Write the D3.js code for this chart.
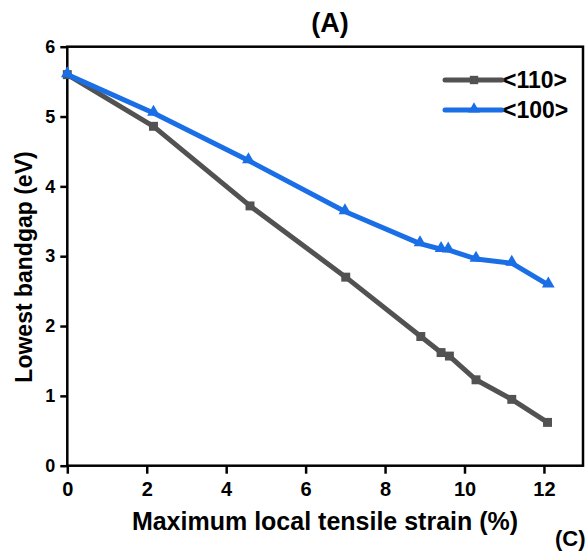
<!DOCTYPE html>
<html>
<head>
<meta charset="utf-8">
<script src="https://cdn.jsdelivr.net/npm/d3@7"></script>
<style>
  html, body { margin: 0; padding: 0; background: #fff; }
  svg { display: block; }
  text { font-family: "Liberation Sans", Arial, sans-serif; font-weight: bold; fill: #000; }
</style>
</head>
<body>
<svg id="chart" width="588" height="551"></svg>
<script>
// ---- data ----
const strain110 = [0, 2.17, 4.6, 7.01, 8.9, 9.41, 9.62, 10.29, 11.19, 12.09];
const gap110    = [5.6, 4.86, 3.72, 2.70, 1.85, 1.62, 1.57, 1.23, 0.95, 0.62];
const strain100 = [0, 2.17, 4.56, 6.99, 8.88, 9.41, 9.59, 10.29, 11.19, 12.11];
const gap100    = [5.6, 5.05, 4.37, 3.64, 3.18, 3.10, 3.09, 2.96, 2.90, 2.59];
const seriesNames = ["<110>", "<100>"];
const xTicks = [0, 2, 4, 6, 8, 10, 12];
const yTicks = [0, 1, 2, 3, 4, 5, 6];
const titleText = "(A)";
const xLabel = "Maximum local tensile strain (%)";
const yLabel = "Lowest bandgap (eV)";

// ---- layout ----
const svg = d3.select("#chart");
const pL = 67.3, pR = 583, pT = 46.7, pB = 465.7;
const x = d3.scaleLinear().domain([0, (pR - pL) / 39.72]).range([pL, pR]);
const y = d3.scaleLinear().domain([0, 6]).range([pB, pT]);

const colors = ["#525252", "#1a6ee6"];

// frame
svg.append("rect")
  .attr("x", pL).attr("y", pT)
  .attr("width", pR - pL).attr("height", pB - pT)
  .attr("fill", "none").attr("stroke", "#000").attr("stroke-width", 2.5);

// axes
const xAxis = svg.append("g").attr("transform", `translate(0,${pB})`)
  .call(d3.axisBottom(x).tickValues(xTicks).tickFormat(d3.format("d")).tickSize(8).tickSizeOuter(0).tickPadding(8));
xAxis.select(".domain").remove();
xAxis.selectAll(".tick line").attr("stroke", "#000").attr("stroke-width", 2.5);
xAxis.selectAll(".tick text").style("font-size", "20px").style("font-weight", "bold")
  .attr("fill", "#000").attr("font-family", null);

const yAxis = svg.append("g").attr("transform", `translate(${pL},0)`)
  .call(d3.axisLeft(y).tickValues(yTicks).tickFormat(d3.format("d")).tickSize(7).tickSizeOuter(0).tickPadding(5));
yAxis.select(".domain").remove();
yAxis.selectAll(".tick line").attr("stroke", "#000").attr("stroke-width", 2.5);
yAxis.selectAll(".tick text").style("font-size", "18px").style("font-weight", "bold")
  .attr("fill", "#000").attr("font-family", null);

// lines
const data = [
  strain110.map((s, i) => ({ x: s, y: gap110[i] })),
  strain100.map((s, i) => ({ x: s, y: gap100[i] }))
];
const line = d3.line().x(d => x(d.x)).y(d => y(d.y));

data.forEach((ser, k) => {
  svg.append("path").datum(ser)
    .attr("d", line)
    .attr("fill", "none")
    .attr("stroke", colors[k])
    .attr("stroke-width", 5)
    .attr("stroke-linejoin", "round");
  const sym = k === 0 ? d3.symbolSquare : d3.symbolTriangle;
  const size = k === 0 ? 80 : 70;
  svg.append("g").selectAll("path").data(ser).join("path")
    .attr("d", d3.symbol().type(sym).size(size))
    .attr("transform", d => `translate(${x(d.x)},${y(d.y) + (k === 1 ? -1 : 0)})`)
    .attr("fill", colors[k]);
});

// legend
const legY = [80, 110];
seriesNames.forEach((name, k) => {
  const g = svg.append("g");
  g.append("line").attr("x1", 445).attr("x2", 502).attr("y1", legY[k]).attr("y2", legY[k])
    .attr("stroke", colors[k]).attr("stroke-width", 5).attr("stroke-linecap", "round");
  g.append("path")
    .attr("d", d3.symbol().type(k === 0 ? d3.symbolSquare : d3.symbolTriangle).size(k === 0 ? 70 : 60))
    .attr("transform", `translate(474,${legY[k] - (k === 1 ? 1 : 0)})`)
    .attr("fill", colors[k]);
  g.append("text").attr("x", 503).attr("y", legY[k]).attr("dy", "0.36em")
    .style("font-size", "23px").text(name);
});

// titles
svg.append("text").attr("x", 330).attr("y", 32).attr("text-anchor", "middle")
  .style("font-size", "27px").text(titleText);
svg.append("text").attr("x", 325).attr("y", 530).attr("text-anchor", "middle")
  .style("font-size", "25px").text(xLabel);
svg.append("text").attr("transform", "translate(32,267) rotate(-90)")
  .attr("text-anchor", "middle").style("font-size", "23px").text(yLabel);
svg.append("text").attr("x", 555).attr("y", 546).style("font-size", "22px").text("(C)");
</script>
</body>
</html>
